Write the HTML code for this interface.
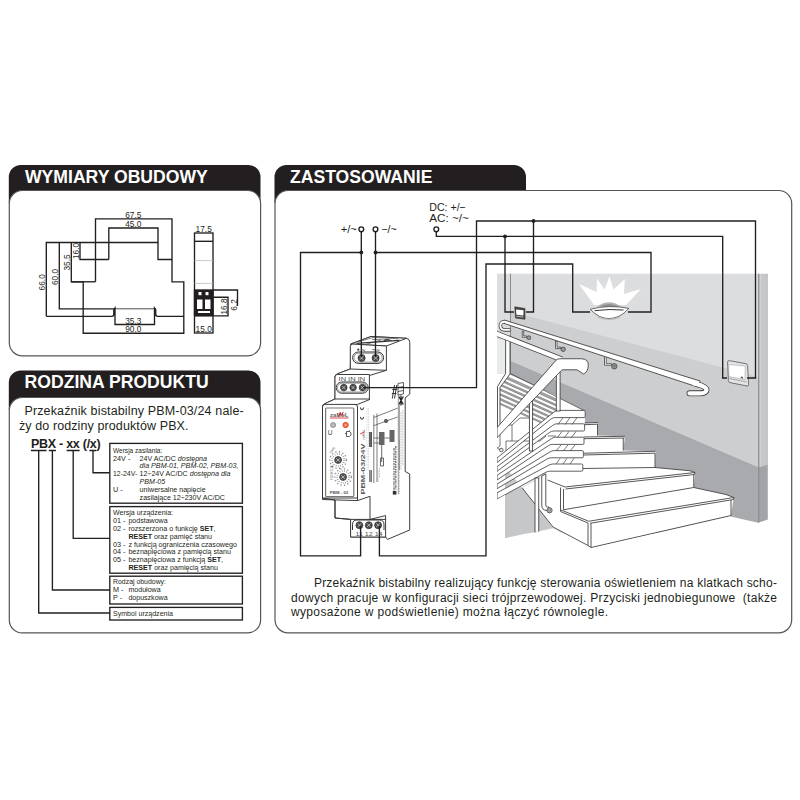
<!DOCTYPE html>
<html><head><meta charset="utf-8">
<style>
html,body{margin:0;padding:0;background:#fff;}
body{width:800px;height:800px;overflow:hidden;font-family:"Liberation Sans",sans-serif;}
svg{position:absolute;left:0;top:0;display:block;}
text{font-family:"Liberation Sans",sans-serif;fill:#231f20;}
.hd{font-weight:bold;font-size:17.6px;fill:#fff;}
.dim{font-size:8.3px;fill:#3a3a3a;}
.ln{stroke:#231f20;stroke-width:1.35;fill:none;}
.bx{stroke:#231f20;stroke-width:1.1;fill:#fff;}
.t7{font-size:7.25px;}
.t12{font-size:12.5px;}
.b{font-weight:bold;}
.i{font-style:italic;}
</style></head><body>
<svg width="800" height="800" viewBox="0 0 800 800">
<!-- PANELS -->
<g id="panels">
<path d="M8.8,203 V177 A12,12 0 0 1 20.8,165 H248.5 A12,12 0 0 1 260.5,177 V203 Z" fill="#231f20"/>
<rect x="9.3" y="190.5" width="251.3" height="165.3" rx="13" ry="13" fill="#fff" stroke="#555" stroke-width="1.2"/>
<text class="hd" x="25" y="183.2">WYMIARY OBUDOWY</text>

<path d="M8.8,410 V382.5 A12,12 0 0 1 20.8,370.5 H248.5 A12,12 0 0 1 260.5,382.5 V410 Z" fill="#231f20"/>
<rect x="9.3" y="397.5" width="251.3" height="235.4" rx="13" ry="13" fill="#fff" stroke="#555" stroke-width="1.2"/>
<text class="hd" x="24.6" y="388">RODZINA PRODUKTU</text>

<path d="M274.5,203 V177 A12,12 0 0 1 286.5,165 H514 A12,12 0 0 1 526,177 V190.5 H400 V203 Z" fill="#231f20"/>
<rect x="275" y="190.5" width="516.7" height="442.3" rx="13" ry="13" fill="#fff" stroke="#555" stroke-width="1.2"/>
<text class="hd" x="290" y="183.2">ZASTOSOWANIE</text>
</g>


<!-- PANEL 3 TEXT -->
<g id="p3t" style="font-size:12px">
<text x="313.900" y="587" textLength="463" lengthAdjust="spacing">Przekaźnik bistabilny realizujący funkcję sterowania oświetleniem na klatkach scho-</text>
<text x="291" y="601.800" textLength="486" lengthAdjust="spacing">dowych pracuje w konfiguracji sieci trójprzewodowej. Przyciski jednobiegunowe &#160;(także</text>
<text x="291" y="616.400" textLength="317" lengthAdjust="spacing">wyposażone w podświetlenie) można łączyć równolegle.</text>
</g>
<!-- PICTURE -->
<defs><clipPath id="cp"><path d="M497,273.4 H768 V520 L758.75,523 L730,516.5 L591,548.5 L586,546 L553,528.5 L505,539 V495 L497,499.6 Z"/></clipPath></defs>
<g id="pic" clip-path="url(#cp)">
<!-- walls -->
<rect x="497" y="273.4" width="262" height="260" fill="#dcdddf"/>
<path d="M510.5,311.5 L758.75,377 V470 L510.5,363 Z" fill="#cdced0"/>
<path d="M510.5,361 L758.75,467.5 V523 L730,516.3 L585,430 V411 L510.5,373.5 Z" fill="#a8aaad"/>
<rect x="497" y="339" width="13.5" height="36" fill="#e9eaeb"/>
<!-- side face of wall -->
<path d="M758.75,273.4 H767.5 V519.5 L758.75,522.5 Z" fill="#c6c7c9"/>
<path d="M758.75,467.5 L767.5,464.8 V519.5 L758.75,522.5 Z" fill="#a2a4a7"/>
<path d="M758.75,273.4 V522.5" stroke="#85878a" stroke-width="1.1" fill="none"/>
<path d="M760.3,273.4 V466.500" stroke="#d9dadc" stroke-width="0.8" fill="none"/>
<path d="M767.3,273.4 V519.5" stroke="#a5a7aa" stroke-width="0.6" fill="none"/>
<path d="M510.5,273.4 V374" stroke="#6a6a6a" stroke-width="0.7" fill="none"/>
<!-- white region of upper flight -->
<path d="M497,374 H510.5 L585,411 V472 L548,471 L497,503 Z" fill="#fff"/>
<!-- gray under stairs -->
<path d="M505,470 H507.800 L553,526.25 V527.75 L505,538.25 Z" fill="#c6c7c9"/>
<!-- stairs silhouette -->
<path id="stS" d="M584.5,411 V423 L598,422.5 L597.5,435.5 L625,436.25 L623.25,450.5 L655.5,451.25 L655,467.5 L690,470.75 L695,472.5 L693.75,487.5 L726,494.5 L733.75,497.5 L731,515.5 L591,547.5 L588,545.5 L553,527.75 L522.5,488 L546,474 L548,470.5 Z" fill="#fff"/>

<!-- upper flight background details -->
<g stroke="#4a4a4a" stroke-width="0.75" fill="none">
<!-- upper flight steps seen from side -->
<path d="M497.5,425 H512 M500,425 V446 M500,446 L497.5,448 M512,425 L520,418 M506,441 H540 M506,441 V452 M540,441 L546,436 M512,425 V441"/>
<path d="M548,436 H556 M520,418 H530"/>
<!-- hatch: balusters/bars of upper flight -->
</g>
<defs><clipPath id="cph"><path d="M510,371 L556.3,394 V410.2 L540.3,423 L500,404.8 V387.5 L510,374 Z"/></clipPath></defs>
<g clip-path="url(#cph)">
<rect x="497" y="360" width="62" height="70" fill="#a8aaad"/>
<g fill="#fff" stroke="#555" stroke-width="0.5">
<path d="M497,368.32 L560,396.68 V400.57 L497,372.22 Z"/>
<path d="M497,374.62 L560,402.98 V406.08 L497,377.73 Z"/>
<path d="M497,379.43 L560,407.78 V410.88 L497,382.53 Z"/>
<path d="M497,384.23 L560,412.58 V415.68 L497,387.33 Z"/>
<path d="M497,389.02 L560,417.38 V420.48 L497,392.12 Z"/>
<path d="M497,393.82 L560,422.18 V425.28 L497,396.93 Z"/>
<path d="M497,398.62 L560,426.98 V430.08 L497,401.73 Z"/>
<path d="M497,403.43 L560,431.78 V434.88 L497,406.53 Z"/>
</g>
</g>
<g stroke="#4a4a4a" stroke-width="0.75" fill="none">
<path d="M510.5,373.500 L585,411" stroke-width="0.8"/>
</g>
<!-- lower horizontal bars -->
<g stroke="#444" stroke-width="0.85" fill="#fff" stroke-linejoin="round">
<path d="M584.0,410.4 H558.0 Q556.0,410.4 554.0,412.0 L497,458.0 V462.6 L550.8,419.2 Q552.8,417.6 554.8,417.6 H584.0 Q585.2,417.6 585.2,416.4 V411.6 Q585.2,410.4 584.0,410.4 Z"/>
<path d="M583.4,423.8 H556.8 Q554.8,423.8 552.8,425.3 L497,466.7 V471.3 L549.5,432.5 Q551.5,431.0 553.5,431.0 H583.4 Q584.6,431.0 584.6,429.8 V425.0 Q584.6,423.8 583.4,423.8 Z"/>
<path d="M582.8,437.2 H555.5 Q553.5,437.2 551.5,438.6 L497,475.4 V480.0 L548.3,445.7 Q550.3,444.4 552.3,444.4 H582.8 Q584.0,444.4 584.0,443.2 V438.4 Q584.0,437.2 582.8,437.2 Z"/>
<path d="M582.2,450.6 H554.2 Q552.2,450.6 550.2,451.8 L497,484.1 V488.7 L547.0,459.0 Q549.0,457.8 551.0,457.8 H582.2 Q583.4,457.8 583.4,456.6 V451.8 Q583.4,450.6 582.2,450.6 Z"/>
<path d="M581.6,464.0 H553.0 Q551.0,464.0 549.0,465.1 L497,492.8 V499.2 L545.8,472.3 Q547.8,471.2 549.8,471.2 H581.6 Q582.8,471.2 582.8,470.0 V465.2 Q582.8,464.0 581.6,464.0 Z"/>
</g>
<g stroke="#4a4a4a" stroke-width="0.75" fill="none">
<path d="M563,417.600 l-5,7 M570,417.600 l-5,7 M577,417.600 l-5,7 M562,431.500 l-5,6.500 M569,431.500 l-5,6.500 M576,431.500 l-5,6.500 M561,445 l-5,6 M568,445 l-5,6 M575,445 l-5,6 M560,458.300 l-4,5.700 M567,458.300 l-4,5.700 M574,458.300 l-4,5.700"/>
</g>
<!-- stair lines -->
<g stroke="#444" stroke-width="0.9" fill="none" stroke-linejoin="round">
<path d="M584.5,423 L598,422.5 M584.5,424.700 L597.800,424.200 M597.5,424.200 V435.5"/>
<path d="M583.75,437 L625,436.25 M584,438.700 L624.500,438 M623.25,438 V450.5"/>
<path d="M583.75,453.25 L655.5,451.25 M584,455 L655,453.200 M655,453.200 V467.5"/>
<path d="M583,468.500 L655,467.500 L690,470.75 L695,472.5 L565,487 L547.5,480 M565.500,489 L694.500,474.500 L695,472.5 M693.75,474.5 V487.5"/>
<path d="M563.500,489 V509.75 M560.500,487.500 V509.75 M563.500,509.75 L693.75,487.5 L726,494.5 L733.75,497.5 L588.75,521.25 L560.5,509.75 M590,523.300 L733.500,499.500 L733.75,497.5 M560.5,509.75 V511.500 L588,523"/>
<path d="M591,523.300 V547.5 L731,515.5 V500 M588,523 V545.5 L591,547.5 M588,545.5 L553,527 L522.25,488"/>
</g>
<!-- posts -->
<g stroke="#444" stroke-width="0.9" fill="#fff">
<path d="M505.600,339.500 H510 V374 L500,387.500 V430 H497.500 V386.500 L505.600,373.500 Z"/>
<rect x="529.400" y="401" width="3.200" height="50"/>
<rect x="556.300" y="369" width="3.800" height="42"/>
<rect x="535" y="478" width="3.750" height="54.300"/>
<path d="M541.750,476 V505 Q541.750,510.500 547,510.500 H549 V507 H547.500 Q545.800,507 545.800,505 V474 Z"/>
<circle cx="549.500" cy="510.300" r="2.600" fill="#ddd"/>
<circle cx="549.500" cy="510.300" r="1.300" fill="#aaa" stroke-width="0.4"/>
</g>
<!-- small bracket circle left -->
<path d="M497,447.500 q3,3.500 5,0.500" stroke="#444" stroke-width="0.8" fill="none"/><circle cx="501.300" cy="450" r="1.800" fill="#eee" stroke="#444" stroke-width="0.8"/>

<!-- brackets of wall handrail -->
<g stroke="#444" stroke-width="0.8" fill="#fff">
<path d="M522.300,331 V337.300 H527 V336 H523.700 V331 Z"/>
<circle cx="528.800" cy="337.700" r="1.900" fill="#999"/>
<path d="M555.500,341 V348.600 H561 V347.200 H557 V341 Z"/>
<circle cx="563.200" cy="349.300" r="2.200" fill="#999"/>
<path d="M604.500,355 V365.300 H611.500 V363.700 H606.200 V355 Z"/>
<circle cx="614.300" cy="366.300" r="2.700" fill="#999"/>
<circle cx="614.300" cy="366.300" r="1.300" fill="#777" stroke="none"/>
</g>
<!-- wall handrail -->
<g fill="none" stroke-linecap="round" stroke-linejoin="round">
<path d="M509.500,329.900 H505 Q500.500,330 500.400,325.700 Q500.300,320.900 506,321.900" stroke="#444" stroke-width="3.500"/>
<path d="M697,384 Q707,387 706.500,390 Q706,393.300 700,393.300 H689.500" stroke="#444" stroke-width="6"/>
<path d="M504.500,320.100 L700,381 L698.500,387.300 L504.500,323.600 Z" fill="#fff" stroke="#444" stroke-width="0.900"/>
<path d="M509.500,329.900 H505 Q500.500,330 500.400,325.700 Q500.300,320.900 506,321.900" stroke="#fff" stroke-width="1.900"/>
<path d="M694,383.300 L697,384 Q707,387 706.500,390 Q706,393.300 700,393.300 H689.500" stroke="#fff" stroke-width="4.300"/>
<!-- thin rail of upper flight -->
<path d="M494,332.700 L562,359.500" stroke="#444" stroke-width="5.800" stroke-linecap="butt"/>
<path d="M494,332.700 L562,359.500" stroke="#fff" stroke-width="4.300" stroke-linecap="butt"/>
</g>
<!-- thick rail -->
<path d="M497,427.700 L556.250,360 Q557.500,358.750 560,358.750 H581.500 Q588.500,359 588.300,365.300 Q588,372 583.500,374 L577,369.800 H563 Q561.800,369.800 561.250,370.600 L497,437.700 Z" fill="#fff" stroke="#444" stroke-width="0.9" stroke-linejoin="round"/>
<!-- lamp -->
<path d="M579,284 L596.500,292 L597,278.500 L604.500,289.500 L609.500,276.500 L613.500,289.500 L624.800,279 L624,294 L641,289 L626,305 H594 Z" fill="#fff"/>
<path d="M597,306.500 Q609,298 621,306.500 Z" fill="#b3b4b6"/>
<path d="M599,306.500 Q609,301.500 619,306.500 Z" fill="#8e9093"/>
<path d="M590.300,309.300 Q609,304.300 628.800,308.400 Q624.500,313.500 619,316.300 Q609,320.800 599,316.300 Q594,313.500 590.300,309.300 Z" fill="#fff" stroke="#444" stroke-width="0.800"/>
<path d="M594.500,310.700 Q609,308.700 623.500,310" stroke="#333" stroke-width="1" fill="none"/>
<path d="M598,316.800 Q609,322 620,316.800" stroke="#b9babc" stroke-width="1.300" fill="none"/>
<!-- small switch -->
<path d="M514.750,306.750 L525,308.500 V319.250 L515.500,318 Z" fill="#444" stroke="#333" stroke-width="0.6" stroke-linejoin="round"/>
<path d="M516,309.500 L523.600,310.300 L523.400,315.400 L516.400,314.800 Z" fill="#fff"/>
<path d="M516.300,316.300 L523.400,317" stroke="#ddd" stroke-width="0.8"/>
<!-- big switch -->
<path d="M727.600,362 Q727.600,360.300 729.500,360.700 L746,363.700 Q747.500,364 747.600,365.500 L748.600,384.500 Q748.700,386.300 747,386 L730,382.600 Q728.500,382.300 728.400,380.500 Z" fill="#e3e4e5" stroke="#666" stroke-width="0.9"/>
<path d="M728.750,364.600 L745.250,366 L745,379.600 L729,376.600 Z" fill="#fff" stroke="#999" stroke-width="0.5"/>
<path d="M729.500,378.500 L746.500,382" stroke="#888" stroke-width="0.7" fill="none"/>
<path d="M741,378.300 q1,-3.500 1.800,0.400" stroke="#333" stroke-width="0.9" fill="none"/>

<!--PIC_MID-->
</g>
<!--PIC_END-->

<!-- DEVICE -->
<g id="dev" stroke="#333" stroke-width="0.95" fill="#fff" stroke-linejoin="round">
<!-- right side plane silhouette -->
<path d="M350.800,344 L371,336.500 L406.500,338.300 Q409.800,338.800 409.800,342.500 V394 L405.200,397.800 V471.500 L409.700,474 V530 L387.500,539.400 L385.600,537 H350.600 V519.400 L335,518 V500 L322.500,498 V407 Q322.500,404.400 325,403.600 L335,399 V377 Q335,374.600 337.500,373.800 L350.300,369 Z"/>
<!-- top block top face -->
<path d="M350.800,344 L371,336.500 L406.500,338.300 L386.400,346 Z"/>
<path d="M358,342 L373,337.500 L398,338.800 M366,344.300 L381,340 M372,339.300 L392,340.400" stroke-width="0.6" fill="none"/>
<path d="M384,340.500 q3,-1.800 6,-0.200" stroke-width="1.2" fill="none"/><path d="M356.500,343.300 L399.500,340.300" stroke="#333" stroke-width="1.300" fill="none"/>
<!-- top block front face -->
<path d="M350.300,369 V346.500 Q350.300,344 352.800,344.100 L386.400,346 V370.300"/>
<!-- IN block top face -->
<path d="M335,377 Q335,374.600 337.500,373.800 L350.300,369 L386.400,370.300 L369.400,375.500 Z"/>
<!-- IN block front -->
<path d="M335,399 V377 Q335,374.500 337.500,374.500 H369.400 V399"/>
<!-- main top face -->
<path d="M322.500,407 Q322.500,404.400 325,403.600 L335,399 H369.400 L370,399.400 L357.500,404.400 Z"/>
<!-- main front face -->
<path d="M322.500,498 V407 Q322.500,404.400 325,404.400 H355 Q357.500,404.400 357.500,407 V498 Z"/>
<path d="M357.500,498 V500.600 L370,496.300 M322.500,498 V499.500 L357.500,500.600" fill="none"/>
<rect x="325.600" y="408" width="28.200" height="88.500" rx="1" stroke="#777" stroke-width="1.2"/>
<!-- lower body -->
<path d="M335,500 V518 L350.600,519.400 M370,496.300 V519.400" fill="none"/>
<!-- bottom terminal block -->
<path d="M350.600,519.400 H370 L385.600,515.600 V537 H350.600 Z"/>
<path d="M370,519.400 H385.600" fill="none"/>

<!-- slots -->
<rect x="352.600" y="352" width="31" height="11.400" rx="5.700" stroke-width="1"/>
<rect x="354" y="353.300" width="28.200" height="8.800" rx="4.400" stroke-width="0.5"/>
<rect x="336.200" y="382" width="32" height="11.200" rx="5.600" stroke-width="1"/>
<rect x="337.500" y="383.200" width="29.400" height="8.800" rx="4.400" stroke-width="0.5"/>
<path d="M352.500,530 V524.500 Q352.500,520 357,520 H379.500 Q384,520 384,524.500 V530" stroke-width="1"/>
</g>
<g id="screws" fill="#4a4a4a" stroke="#222" stroke-width="0.6">
<circle cx="361.600" cy="358" r="3.600"/><circle cx="375.600" cy="358" r="3.600"/>
<circle cx="343.800" cy="387.600" r="3.300"/><circle cx="353.100" cy="387.600" r="3.300"/><circle cx="362.500" cy="387.600" r="3.300"/>
<circle cx="359.400" cy="525.200" r="3.500"/><circle cx="368.800" cy="525.200" r="3.500"/><circle cx="378.100" cy="525.200" r="3.500"/>
</g>
<g stroke="#ddd" stroke-width="0.7" fill="none">
<path d="M359.500,356 l4.200,4 M363.700,356 l-4.200,4 M373.500,356 l4.200,4 M377.700,356 l-4.200,4"/>
<path d="M342,385.800 l3.600,3.600 M345.600,385.800 l-3.600,3.600 M351.300,385.800 l3.600,3.600 M354.900,385.800 l-3.600,3.600 M360.700,385.800 l3.600,3.600 M364.300,385.800 l-3.600,3.600"/>
<path d="M357.500,523.300 l3.800,3.800 M361.300,523.300 l-3.800,3.800 M366.900,523.300 l3.800,3.800 M370.700,523.300 l-3.800,3.800 M376.200,523.300 l3.800,3.800 M380,523.300 l-3.800,3.800"/>
</g>
<g id="devtxt">
<text x="338.600" y="381.300" style="font-size:5.6px;fill:#444" textLength="26.500" lengthAdjust="spacingAndGlyphs">IN IN IN</text>
<text x="355.500" y="535.800" style="font-size:5.8px;fill:#555" textLength="27" lengthAdjust="spacingAndGlyphs">11 12 14</text>
<path d="M357,349.700 h2.600 M358.300,348.400 v2.600 M361.800,350.400 q0.900,-1.300 1.700,-0.300 t1.700,-0.300 M372.300,349.700 h2.400 M376.400,350.400 q0.900,-1.300 1.700,-0.300 t1.700,-0.300" stroke="#333" stroke-width="0.800" fill="none"/>

<!-- logo -->
<text x="330" y="417" style="font-size:6px;font-weight:bold;fill:#666" textLength="18.500" lengthAdjust="spacingAndGlyphs">zaMeL</text>
<path d="M330,418 H348.500" stroke="#d33" stroke-width="0.9"/>
<path d="M338.500,417 l1.700,-4.600 l1.500,3 l1.500,-3.500" stroke="#d22" stroke-width="1" fill="none"/>
<circle cx="333.100" cy="425" r="2.500" fill="#b9bcc0" stroke="#777" stroke-width="0.7"/>
<circle cx="345.600" cy="425" r="2.700" fill="#f26a3d" stroke="#e8432a" stroke-width="0.8"/>
<circle cx="345.600" cy="425" r="1" fill="#fbb"/>
<text x="327.800" y="435.300" style="font-size:6.500px;fill:#444">U</text>
<path d="M346.500,431.500 h3 l1.500,1.500 v2 l-1.500,1.500 h-3 z M345,433.500 h1.500 M349.500,430.300 v1.200" stroke="#333" stroke-width="0.8" fill="none"/>
<!-- dials -->
<g stroke="#333" fill="none">
<circle cx="338.100" cy="460" r="3.400" fill="#555" stroke-width="0.8"/>
<circle cx="343.100" cy="477" r="3.400" fill="#555" stroke-width="0.8"/>
<circle cx="338.100" cy="460" r="6" stroke-width="1.600" stroke-dasharray="0.5 1.700" stroke="#555"/>
<circle cx="343.100" cy="477" r="6" stroke-width="1.600" stroke-dasharray="0.5 1.700" stroke="#555"/>
<circle cx="338.100" cy="460" r="8.300" stroke-width="1.500" stroke-dasharray="1.300 2.300" stroke="#999"/>
<circle cx="343.100" cy="477" r="8.300" stroke-width="1.500" stroke-dasharray="1.300 2.300" stroke="#999"/>
<path d="M336.300,458.200 l3.600,3.600 M339.900,458.200 l-3.600,3.600 M341.300,475.200 l3.600,3.600 M344.900,475.200 l-3.600,3.600" stroke="#ddd" stroke-width="0.7"/>
</g>
<text transform="translate(333,480) rotate(-90)" style="font-size:3.200px;fill:#666">FUNKCJA</text>
<text transform="translate(331,454) rotate(-55)" style="font-size:3.200px;fill:#666">TIME</text>
<text x="329.800" y="494" style="font-size:4.300px;font-weight:bold;fill:#555" textLength="18.500" lengthAdjust="spacingAndGlyphs">PBM - 03</text>
<!-- side label -->
<text transform="translate(365,494.500) rotate(-90)" style="font-size:5.300px;font-weight:bold;fill:#5a5a5a" textLength="51" lengthAdjust="spacingAndGlyphs">PBM-03/24V</text>
<text transform="translate(365.300,440) rotate(-90)" style="font-size:3.600px;fill:#666">zaMeL</text>
<path d="M360,434 l5,-2.500" stroke="#d22" stroke-width="0.800"/>
<path d="M360.300,407.500 q1.500,4.500 3.500,0 M360.300,417 q1.500,4.500 3.500,0" stroke="#444" stroke-width="1.100" fill="none"/>
</g>
<!-- side schematic -->
<g id="sch" stroke="#444" stroke-width="0.7" fill="none">
<path d="M373.800,415 V483 M377,413.500 V482"/>
<path d="M373.800,417.500 L397.500,408.200 M373.800,425.600 L397.500,417 "/>
<circle cx="386" cy="421" r="1.700" fill="#666"/>
<path d="M369.800,432 V447 M371.300,432 V447" stroke-width="1.400" stroke="#555"/>
<path d="M369.800,470 V482 M371.300,470 V482" stroke-width="1.200" stroke="#666"/>
<rect x="379" y="432" width="5.500" height="13" fill="#666" stroke="none"/>
<rect x="389.500" y="430" width="5" height="12" fill="#666" stroke="none"/>
<path d="M381.700,445 V462 M380.500,458 h3 v8 h-3 z" stroke-width="0.800"/>
<path d="M373.800,438 H379 M384.500,438 H389.500 M373.800,443 H379" />
<path d="M367,408 V470 M368.500,408 V470" stroke="#aaa" stroke-width="0.600" stroke-dasharray="0.700 0.900"/>
<path d="M401,412 V470 M402.800,410 V466 M399.300,440 V494" stroke="#999" stroke-width="0.800" stroke-dasharray="0.800 0.800"/>
<path d="M394,448 V492 M395.800,446 V490" stroke="#555" stroke-width="1.100" stroke-dasharray="2.500 0.800 1 0.600"/>
<rect x="392.800" y="491" width="3.600" height="3.600" fill="#333" stroke="none"/>
<path d="M378,470 V482 M379.500,468 V478" stroke="#999" stroke-width="0.800" stroke-dasharray="0.800 0.800"/>
<!-- symbols near top of side -->
<path d="M394.600,385 l-2.300,13.500 M396.800,385 l-2.300,13.500 M392.300,389.500 h4.500 M391.800,393.500 h4.500" stroke="#222" stroke-width="0.900"/>
<path d="M398,383.500 l5.500,-1 v11.500 l-5.500,1 z M398,387.500 l5.500,-1 M398,391.500 l5.500,-1" stroke="#333" stroke-width="0.800"/>
<path d="M398.800,396.500 l4.500,8 M403.300,396.500 l-4.500,8 M401,395.500 v10" stroke="#222" stroke-width="1.300"/>
<path d="M398.300,395 V494 M399.400,405 V470" stroke="#555" stroke-width="0.600"/>
</g>
<!-- WIRES -->
<g id="wires" class="ln" stroke-width="1.5">
<path d="M361.300,231.800 V357"/>
<path d="M375.500,231.800 V357"/>
<path d="M361.300,252.500 H300.500 V555.800 H360.600 V526"/>
<path d="M375.500,252.500 H651 V312 H628"/>
<path d="M379.400,526 V555.800 H486 V264 H572.700 V312 H590"/>
<path d="M363,387.600 H476.500 V221 H755.500 V378 H747"/>
<path d="M436.300,231.800 V236.400 H722.700 V378 H727"/>
<path d="M505,236.400 V312 H514 M533.500,221 V312 H526"/>
<circle cx="361.300" cy="229.300" r="2.400" fill="#fff"/>
<circle cx="375.500" cy="229.300" r="2.400" fill="#fff"/>
<circle cx="436.300" cy="229.300" r="2.400" fill="#fff"/>
</g>
<g fill="#231f20">
<circle cx="361.300" cy="252.500" r="1.900"/><circle cx="375.500" cy="252.500" r="1.900"/>
<circle cx="505" cy="236.400" r="1.900"/><circle cx="533.500" cy="221" r="1.900"/>
</g>
<g style="font-size:11.5px">
<text x="429.300" y="211.300" textLength="36.500" lengthAdjust="spacingAndGlyphs">DC: +/−</text>
<text x="429.300" y="222.300" textLength="39.500" lengthAdjust="spacingAndGlyphs">AC: ~/~</text>
<text x="340.700" y="232.800" style="font-size:10.5px" textLength="16" lengthAdjust="spacingAndGlyphs">+/~</text>
<text x="381.200" y="232.800" style="font-size:10.5px" textLength="15.500" lengthAdjust="spacingAndGlyphs">−/~</text>
</g>
<!-- DIMENSIONS -->
<g id="dims" class="ln">
<path d="M95.5,281.8 V218.8 H172 V281.8 H183.8 V333.2 H83.2 V281.8 H71.3 V242.5"/>
<path d="M108.8,259.5 V228 H158 V259.5 H172"/>
<path d="M46.3,316.3 V242.5 H158"/>
<path d="M59.3,242.5 V308.8 H113.8"/>
<path d="M80,242.5 V259.5 H108.8"/>
<path d="M71.3,281.8 H95.5"/>
<path d="M46.3,316.3 H112 Q113.8,316.3 113.8,314 V309.5 L115,308 V324.5 H154.5 V308 L155.7,309.5 V314 Q155.700,316.3 157.500,316.3 H183.8"/>
<path d="M113.800,308.8 H155.200" stroke-width="0.8"/>
<!-- side view -->
<rect x="194.5" y="233" width="18.5" height="100"/>
<path d="M194.5,241.3 H213"/>
<path d="M194.500,260.600 H213 M194.500,283.400 H213" stroke="#bbb" stroke-width="0.8"/>
<rect x="194.500" y="290" width="18.5" height="25.500" fill="#231f20"/>
<path d="M213,290 H237.500 V306 M213,297.200 H228 V315.800 H194.500" />
</g>
<g fill="#fff" stroke="none">
<rect x="198.5" y="292" width="3" height="3.2"/><rect x="205.5" y="292" width="3" height="3.2"/>
<rect x="197" y="299.500" width="5.5" height="9.500"/><rect x="205" y="299.500" width="5.5" height="9.500"/>
<rect x="198" y="311" width="12" height="2"/>
</g>
<g class="dim" text-anchor="middle">
<text x="133.3" y="217.8">67.5</text>
<text x="133.3" y="227">45.0</text>
<text x="133.3" y="323.700">35.3</text>
<text x="133.3" y="332.200">90.0</text>
<text x="203.700" y="231.800">17.5</text>
<text x="203.700" y="332.200">15.0</text>
<text transform="translate(45.3,282.3) rotate(-90)">66.0</text>
<text transform="translate(58.3,277) rotate(-90)">60.0</text>
<text transform="translate(70.3,262.5) rotate(-90)">35.5</text>
<text transform="translate(79,251) rotate(-90)">16.0</text>
<text transform="translate(227,306.500) rotate(-90)">16.8</text>
<text transform="translate(236.500,305) rotate(-90)">6.2</text>
</g>

<!-- PANEL 2 CONTENT -->
<g id="p2">
<text class="t12" x="24.4" y="414.5" textLength="219.3" lengthAdjust="spacing">Przekaźnik bistabilny PBM-03/24 nale-</text>
<text class="t12" x="18.9" y="429.8" textLength="169.6" lengthAdjust="spacing">ży do rodziny produktów PBX.</text>
<text class="t12 b" x="30.9" y="448" textLength="69.8" lengthAdjust="spacing">PBX - xx (/x)</text>
<g class="ln" stroke-width="1.3">
<path d="M30.9,450.500 H46.500 M48.800,450.500 H55.900 M66.600,450.500 H79.600 M89.400,450.500 H96.500"/>
<path d="M38.7,450.500 V613 H110"/>
<path d="M52.400,450.500 V590 H110"/>
<path d="M73.2,450.500 V538.400 H110"/>
<path d="M93,450.500 V472.700 H110"/>
<rect x="109.800" y="443.400" width="132.600" height="59.800"/>
<rect x="109.800" y="506.600" width="132.600" height="66.600"/>
<rect x="109.800" y="576.200" width="132.600" height="27.800"/>
<rect x="109.800" y="607.400" width="132.600" height="12.600"/>
</g>
<g class="t7">
<text textLength="49.3" lengthAdjust="spacingAndGlyphs" x="113" y="452.600">Wersja zasilania:</text>
<text x="113" y="460.600">24V -</text><text textLength="67.4" lengthAdjust="spacingAndGlyphs" x="139.600" y="460.600">24V AC/DC <tspan class="i">dostępna</tspan></text>
<text textLength="98.8" lengthAdjust="spacingAndGlyphs" x="139.600" y="468.400" class="i">dla PBM-01, PBM-02, PBM-03,</text>
<text textLength="24.2" lengthAdjust="spacingAndGlyphs" x="113" y="476.200">12-24V-</text><text textLength="90.8" lengthAdjust="spacingAndGlyphs" x="139.600" y="476.200">12÷24V AC/DC <tspan class="i">dostępna dla</tspan></text>
<text textLength="25.6" lengthAdjust="spacingAndGlyphs" x="139.600" y="484.100" class="i">PBM-05</text>
<text x="113" y="492">U -</text><text textLength="66.0" lengthAdjust="spacingAndGlyphs" x="139.600" y="492">uniwersalne napięcie</text>
<text textLength="85.4" lengthAdjust="spacingAndGlyphs" x="139.600" y="500">zasilające 12÷230V AC/DC</text>

<text textLength="60.0" lengthAdjust="spacingAndGlyphs" x="113" y="515">Wersja urządzenia:</text>
<text x="113" y="522.800">01 -</text><text textLength="39.2" lengthAdjust="spacingAndGlyphs" x="128.400" y="522.800">podstawowa</text>
<text x="113" y="530.700">02 -</text><text textLength="87.2" lengthAdjust="spacingAndGlyphs" x="128.400" y="530.700">rozszerzona o funkcję <tspan class="b">SET</tspan>,</text>
<text textLength="83.6" lengthAdjust="spacingAndGlyphs" x="128.400" y="538.600"><tspan class="b">RESET</tspan> oraz pamięć stanu</text>
<text x="113" y="546.500">03 -</text><text textLength="108.6" lengthAdjust="spacingAndGlyphs" x="128.400" y="546.500">z funkcją ograniczenia czasowego</text>
<text x="113" y="554.400">04 -</text><text textLength="102.6" lengthAdjust="spacingAndGlyphs" x="128.400" y="554.400">beznapięciowa z pamięcią stanu</text>
<text x="113" y="562.400">05 -</text><text textLength="94.6" lengthAdjust="spacingAndGlyphs" x="128.400" y="562.400">beznapięciowa z funkcją <tspan class="b">SET</tspan>,</text>
<text textLength="89.6" lengthAdjust="spacingAndGlyphs" x="128.400" y="570.400"><tspan class="b">RESET</tspan> oraz pamięcią stanu</text>

<text textLength="53.0" lengthAdjust="spacingAndGlyphs" x="113" y="584.400">Rodzaj obudowy:</text>
<text x="113" y="592.400">M -</text><text textLength="32.2" lengthAdjust="spacingAndGlyphs" x="128.400" y="592.400">modułowa</text>
<text x="113" y="600.200">P -</text><text textLength="39.2" lengthAdjust="spacingAndGlyphs" x="128.400" y="600.200">dopuszkowa</text>
<text textLength="60.0" lengthAdjust="spacingAndGlyphs" x="113" y="615.600">Symbol urządzenia</text>
</g>
</g>
</svg>
</body></html>
